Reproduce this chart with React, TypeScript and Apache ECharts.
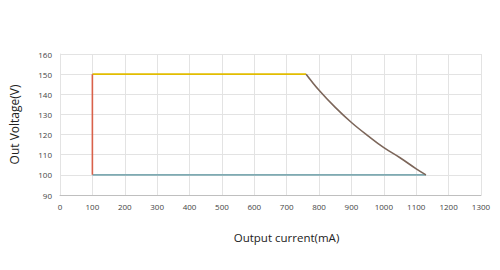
import React, { useEffect, useRef } from "react";
import * as echarts from "echarts";

const vertX = [100, 100];
const vertY = [100, 150];
const topX = [100, 760];
const topY = [150, 150];
const curveX = [760, 800, 850, 900, 950, 1000, 1050, 1100, 1130];
const curveY = [150, 142, 133.5, 126, 119.5, 113.5, 108.5, 103, 100];
const bottomX = [100, 1130];
const bottomY = [100, 100];

const zip = (xs: number[], ys: number[]) => xs.map((x, i) => [x, ys[i]]);

export default function App() {
  const ref = useRef<HTMLDivElement>(null);
  useEffect(() => {
    const chart = echarts.init(ref.current!, null, { renderer: "svg" });
    const font = "'Open Sans', 'Noto Sans', sans-serif";
    const line = (data: number[][], color: string, smooth: number | boolean = false) => ({
      type: "line",
      data,
      symbol: "none",
      smooth,
      lineStyle: { color, width: 1.6 },
    });
    chart.setOption({
      animation: false,
      backgroundColor: "#ffffff",
      grid: { left: 59, right: 19, top: 54, bottom: 75 },
      xAxis: {
        type: "value",
        min: 0,
        max: 1300,
        interval: 100,
        name: "Output current(mA)",
        nameLocation: "middle",
        nameGap: 36,
        nameTextStyle: { fontFamily: font, fontSize: 11.5, color: "#222", padding: [0, 0, 0, 32] },
        axisLine: { show: true, lineStyle: { color: "#bfbfbf" } },
        axisTick: { show: false },
        axisLabel: { fontFamily: font, fontSize: 8, color: "#444", margin: 7, formatter: (v: number) => String(v) },
        splitLine: { show: true, lineStyle: { color: "#e3e3e3" } },
      },
      yAxis: {
        type: "value",
        min: 90,
        max: 160,
        interval: 10,
        name: "Out Voltage(V)",
        nameLocation: "middle",
        nameGap: 40,
        nameRotate: 90,
        nameTextStyle: { fontFamily: font, fontSize: 12, color: "#222" },
        axisLine: { show: true, lineStyle: { color: "#e3e3e3" } },
        axisTick: { show: false },
        axisLabel: { fontFamily: font, fontSize: 8, color: "#444", margin: 8 },
        splitLine: { show: true, lineStyle: { color: "#e3e3e3" } },
      },
      series: [
        line(zip(bottomX, bottomY), "#7eaab2"),
        line(zip(topX, topY), "#e2bd00"),
        line(zip(curveX, curveY), "#7c665a", 0.4),
        line(zip(vertX, vertY), "#d9614a"),
      ],
    });
    return () => chart.dispose();
  }, []);
  return <div ref={ref} style={{ width: 500, height: 270, position: "absolute", left: 0, top: 0 }} />;
}
